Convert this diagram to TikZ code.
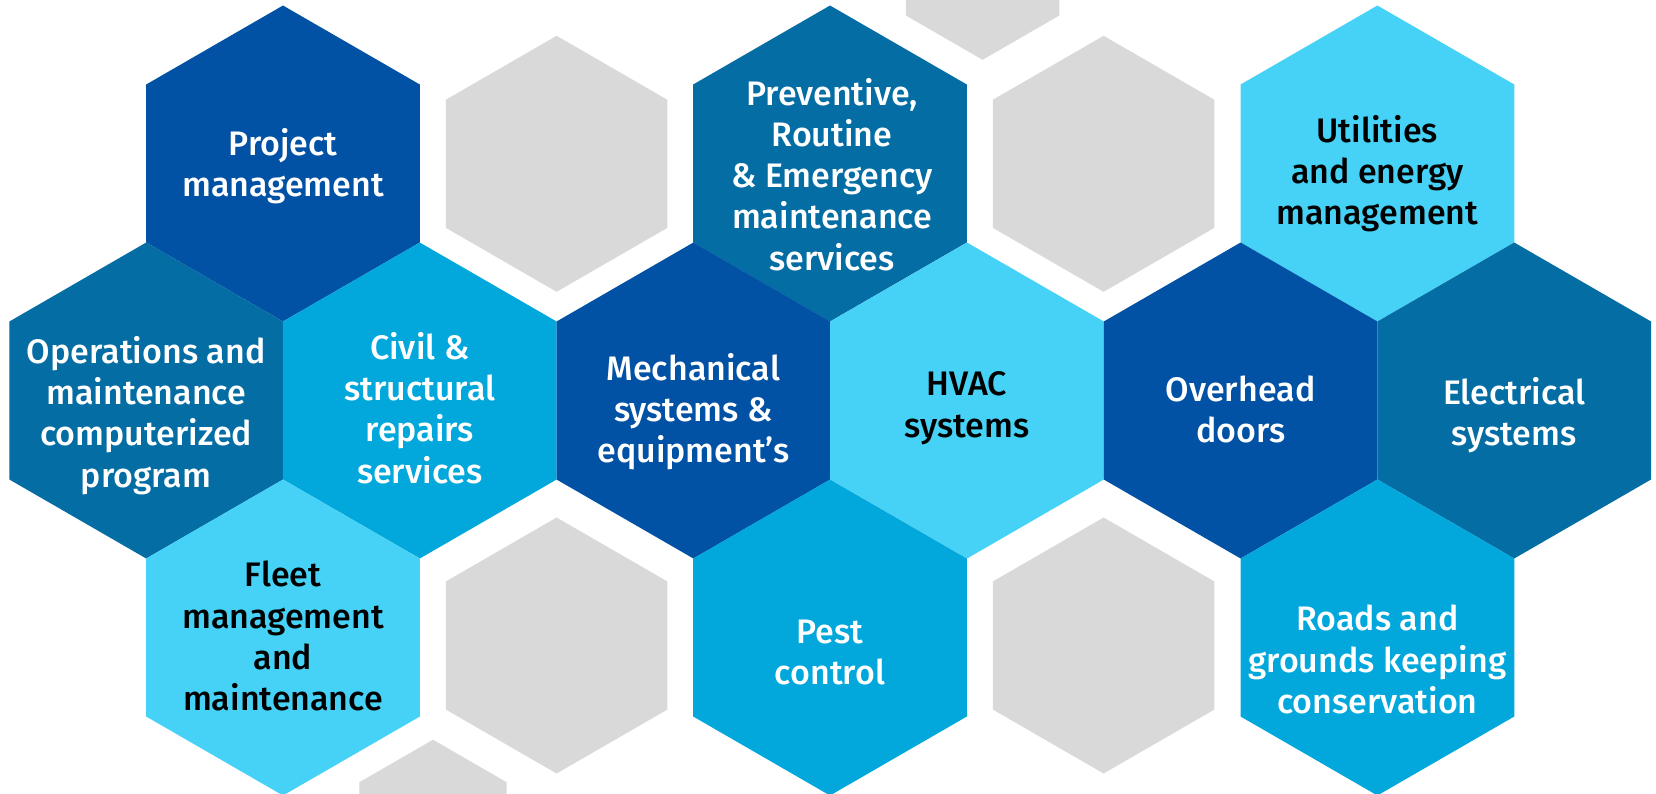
\documentclass[tikz,border=0pt]{standalone}
\usepackage{fontspec}
\IfFontExistsTF{Fira Sans Medium}{\setmainfont{Fira Sans Medium}}{\setmainfont{Fira Sans}}
\definecolor{cdark}{HTML}{0151A4}
\definecolor{cteal}{HTML}{036DA4}
\definecolor{cmid}{HTML}{02A8DC}
\definecolor{clight}{HTML}{45D2F6}
\definecolor{cgrey}{HTML}{D9D9D9}
\newcommand\hexshape[3]{\fill[#3] (#1) +(90:#2) -- +(150:#2) -- +(210:#2) -- +(270:#2) -- +(330:#2) -- +(30:#2) -- cycle;}
\newcommand\ml[1]{\begin{tabular}[t]{@{}c@{}}#1\end{tabular}}
\begin{document}
\begin{tikzpicture}[x=1pt,y=-1pt,
  lbl/.style={anchor=base, inner sep=0pt, font=\fontsize{34}{41.3}\selectfont, text=white},
  lbldark/.style={lbl, text=black}]
\useasboundingbox (0,0) rectangle (1656,793);
\clip (0,0) rectangle (1656,793);
% centres
\coordinate (hProj) at (283,163.5);
\coordinate (gA) at (556.6,163.8);
\coordinate (hPrev) at (830,163.5);
\coordinate (gB) at (1103.6,163.8);
\coordinate (hUtil) at (1377.4,163.5);
\coordinate (hOps) at (146.2,400.5);
\coordinate (hCivil) at (419.8,400.5);
\coordinate (hMech) at (693.4,400.5);
\coordinate (hHvac) at (967,400.5);
\coordinate (hOver) at (1240.6,400.5);
\coordinate (hElec) at (1514.2,400.5);
\coordinate (hFleet) at (283,637.5);
\coordinate (gC) at (556.6,645.5);
\coordinate (hPest) at (830,637.5);
\coordinate (gD) at (1103.6,645.5);
\coordinate (hRoad) at (1377.4,637.5);
\coordinate (gTop) at (982.6,-28.7);
\coordinate (gBot) at (433,824.7);
% grey hexagons
\hexshape{gA}{128}{cgrey}
\hexshape{gB}{128}{cgrey}
\hexshape{gC}{128}{cgrey}
\hexshape{gD}{128}{cgrey}
\hexshape{gTop}{88.5}{cgrey}
\hexshape{gBot}{85}{cgrey}
% coloured hexagons
\hexshape{hProj}{158}{cdark}
\hexshape{hPrev}{158}{cteal}
\hexshape{hUtil}{158}{clight}
\hexshape{hOps}{158}{cteal}
\hexshape{hCivil}{158}{cmid}
\hexshape{hMech}{158}{cdark}
\hexshape{hHvac}{158}{clight}
\hexshape{hOver}{158}{cdark}
\hexshape{hElec}{158}{cteal}
\hexshape{hFleet}{158}{clight}
\hexshape{hPest}{158}{cmid}
\hexshape{hRoad}{158}{cmid}
% labels
\node[lbl] (tProj) at (283,155) {\ml{Project\\management}};
\node[lbl] (tPrev) at (832,105) {\ml{Preventive,\\Routine\\\& Emergency\\maintenance\\services}};
\node[lbldark] (tUtil) at (1377.4,142.3) {\ml{Utilities\\and energy\\management}};
\node[lbl] (tOps) at (146.2,363.3) {\ml{Operations and\\maintenance\\computerized\\program}};
\node[lbl] (tCivil) at (419.8,359.3) {\ml{Civil \&\\structural\\repairs\\services}};
\node[lbl] (tMech) at (693.4,380) {\ml{Mechanical\\systems \&\\equipment's}};
\node[lbldark] (tHvac) at (967,395.7) {\ml{HVAC\\systems}};
\node[lbl] (tOver) at (1240.6,401) {\ml{Overhead\\doors}};
\node[lbl] (tElec) at (1514.2,404) {\ml{Electrical\\systems}};
\node[lbldark] (tFleet) at (283,586.7) {\ml{Fleet\\management\\and\\maintenance}};
\node[lbl] (tPest) at (830,643) {\ml{Pest\\control}};
\node[lbl] (tRoad) at (1377.4,630.7) {\ml{Roads and\\grounds keeping\\conservation}};
\end{tikzpicture}
\end{document}
